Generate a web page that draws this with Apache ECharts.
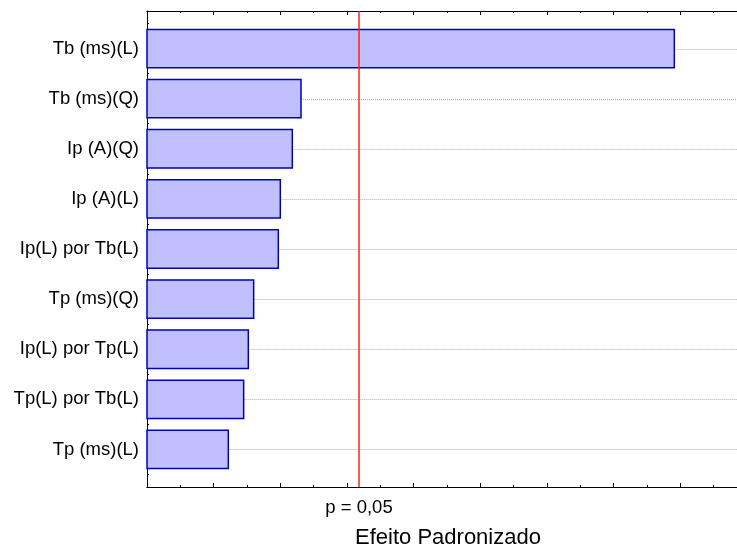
<!DOCTYPE html>
<html>
<head>
<meta charset="utf-8">
<script src="https://cdn.jsdelivr.net/npm/echarts@6/dist/echarts.min.js"></script>
<style>
  html, body { margin: 0; padding: 0; background: #fff; }
  #chart { width: 737px; height: 546px; }
</style>
</head>
<body>
<div id="chart"></div>
<script>
// Effects, in the order they are listed from top to bottom
const categories = [
  'Tb (ms)(L)', 'Tb (ms)(Q)', 'Ip (A)(Q)', 'Ip (A)(L)', 'Ip(L) por Tb(L)',
  'Tp (ms)(Q)', 'Ip(L) por Tp(L)', 'Tp(L) por Tb(L)', 'Tp (ms)(L)'
];
// Standardized effect magnitudes
const effects = [7.91, 2.31, 2.18, 2.00, 1.97, 1.60, 1.52, 1.45, 1.22];
// Critical value for p = 0.05
const critical = 3.18;
const criticalLabel = 'p = 0,05';
const axisTitle = 'Efeito Padronizado';

// x scale: one major tick per unit, minor ticks at halves
const xMax = 8.85;
const xMajor = [0, 1, 2, 3, 4, 5, 6, 7, 8];
const xMinor = [0.5, 1.5, 2.5, 3.5, 4.5, 5.5, 6.5, 7.5, 8.5];
// y scale in category units, with quarter-step minor ticks
const yMin = -0.75, yMax = 8.75;
const yMajor = categories.map((c, i) => i);
const yMinor = [];
for (let v = yMin; v <= yMax + 1e-9; v += 0.25) yMinor.push(+v.toFixed(2));

const FONT = '"Liberation Sans", Arial, sans-serif';

const chart = echarts.init(document.getElementById('chart'), null, { renderer: 'canvas' });

const tickAxisX = (pos, ticks, len) => ({
  type: 'value', position: pos, min: 0, max: xMax,
  axisLine: { show: true, onZero: false, lineStyle: { color: '#000', width: 1 } },
  axisTick: { show: true, inside: true, length: len, customValues: ticks, lineStyle: { color: '#000' } },
  axisLabel: { show: false },
  splitLine: { show: false }
});

chart.setOption({
  animation: false,
  backgroundColor: '#fff',
  grid: { left: 147, top: 11, bottom: 59, right: 0, containLabel: false, outerBoundsMode: 'none' },
  xAxis: [
    // bottom axis: major ticks, critical-value label and axis title
    {
      type: 'value', position: 'bottom', min: 0, max: xMax,
      name: axisTitle, nameLocation: 'middle', nameGap: 40,
      nameTextStyle: { fontFamily: FONT, fontSize: 22, color: '#000', padding: [0, 0, 0, 12] },
      axisLine: { show: true, onZero: false, lineStyle: { color: '#000', width: 1 } },
      axisTick: { show: true, inside: true, length: 4, customValues: xMajor, lineStyle: { color: '#000' } },
      axisLabel: {
        show: true, margin: 11, customValues: [critical],
        formatter: () => criticalLabel,
        fontFamily: FONT, fontSize: 18.5, color: '#000'
      },
      splitLine: { show: false }
    },
    tickAxisX('bottom', xMinor, 2),
    tickAxisX('top', xMajor, 4),
    tickAxisX('top', xMinor, 2)
  ],
  yAxis: [
    {
      type: 'value', position: 'left', inverse: true, min: yMin, max: yMax,
      axisLine: { show: true, onZero: false, lineStyle: { color: '#000', width: 1 } },
      axisTick: { show: true, inside: true, length: 4, customValues: yMajor, lineStyle: { color: '#000' } },
      axisLabel: {
        show: true, margin: 8, customValues: yMajor,
        formatter: v => categories[Math.round(v)],
        fontFamily: FONT, fontSize: 18.5, color: '#000'
      },
      splitLine: { show: false }
    },
    {
      type: 'value', position: 'left', inverse: true, min: yMin, max: yMax,
      axisLine: { show: false, onZero: false },
      axisTick: { show: true, inside: true, length: 2, customValues: yMinor, lineStyle: { color: '#000' } },
      axisLabel: { show: false },
      splitLine: { show: false }
    }
  ],
  series: [
    {
      // effect bars with dotted guide lines behind them
      type: 'custom',
      xAxisIndex: 0, yAxisIndex: 0,
      data: effects.map((v, i) => [v, i]),
      renderItem: (params, api) => {
        const val = api.value(0), idx = api.value(1);
        const start = api.coord([0, idx]);
        const end = api.coord([val, idx]);
        const band = Math.abs(api.size([0, 1])[1]);
        const h = band * 0.765;
        const cs = params.coordSys;
        const gy = Math.round(start[1]) + 0.5;
        return {
          type: 'group',
          children: [
            {
              type: 'line',
              shape: { x1: end[0], y1: gy, x2: cs.x + cs.width, y2: gy },
              style: { stroke: '#b0b0b0', lineWidth: 1, lineDash: [1, 1] }
            },
            {
              type: 'rect',
              shape: { x: start[0], y: start[1] - h / 2, width: end[0] - start[0], height: h },
              style: { fill: '#c0c0ff', stroke: '#0000c0', lineWidth: 1.5 }
            }
          ]
        };
      },
      z: 2
    },
    {
      // critical value line
      type: 'custom',
      xAxisIndex: 0, yAxisIndex: 0,
      data: [[critical]],
      renderItem: (params, api) => {
        const x = api.coord([api.value(0), 0])[0];
        const cs = params.coordSys;
        return {
          type: 'line',
          shape: { x1: x, y1: cs.y, x2: x, y2: cs.y + cs.height },
          style: { stroke: '#ff2020', lineWidth: 1.5 }
        };
      },
      silent: true,
      z: 3
    }
  ]
});
</script>
</body>
</html>
